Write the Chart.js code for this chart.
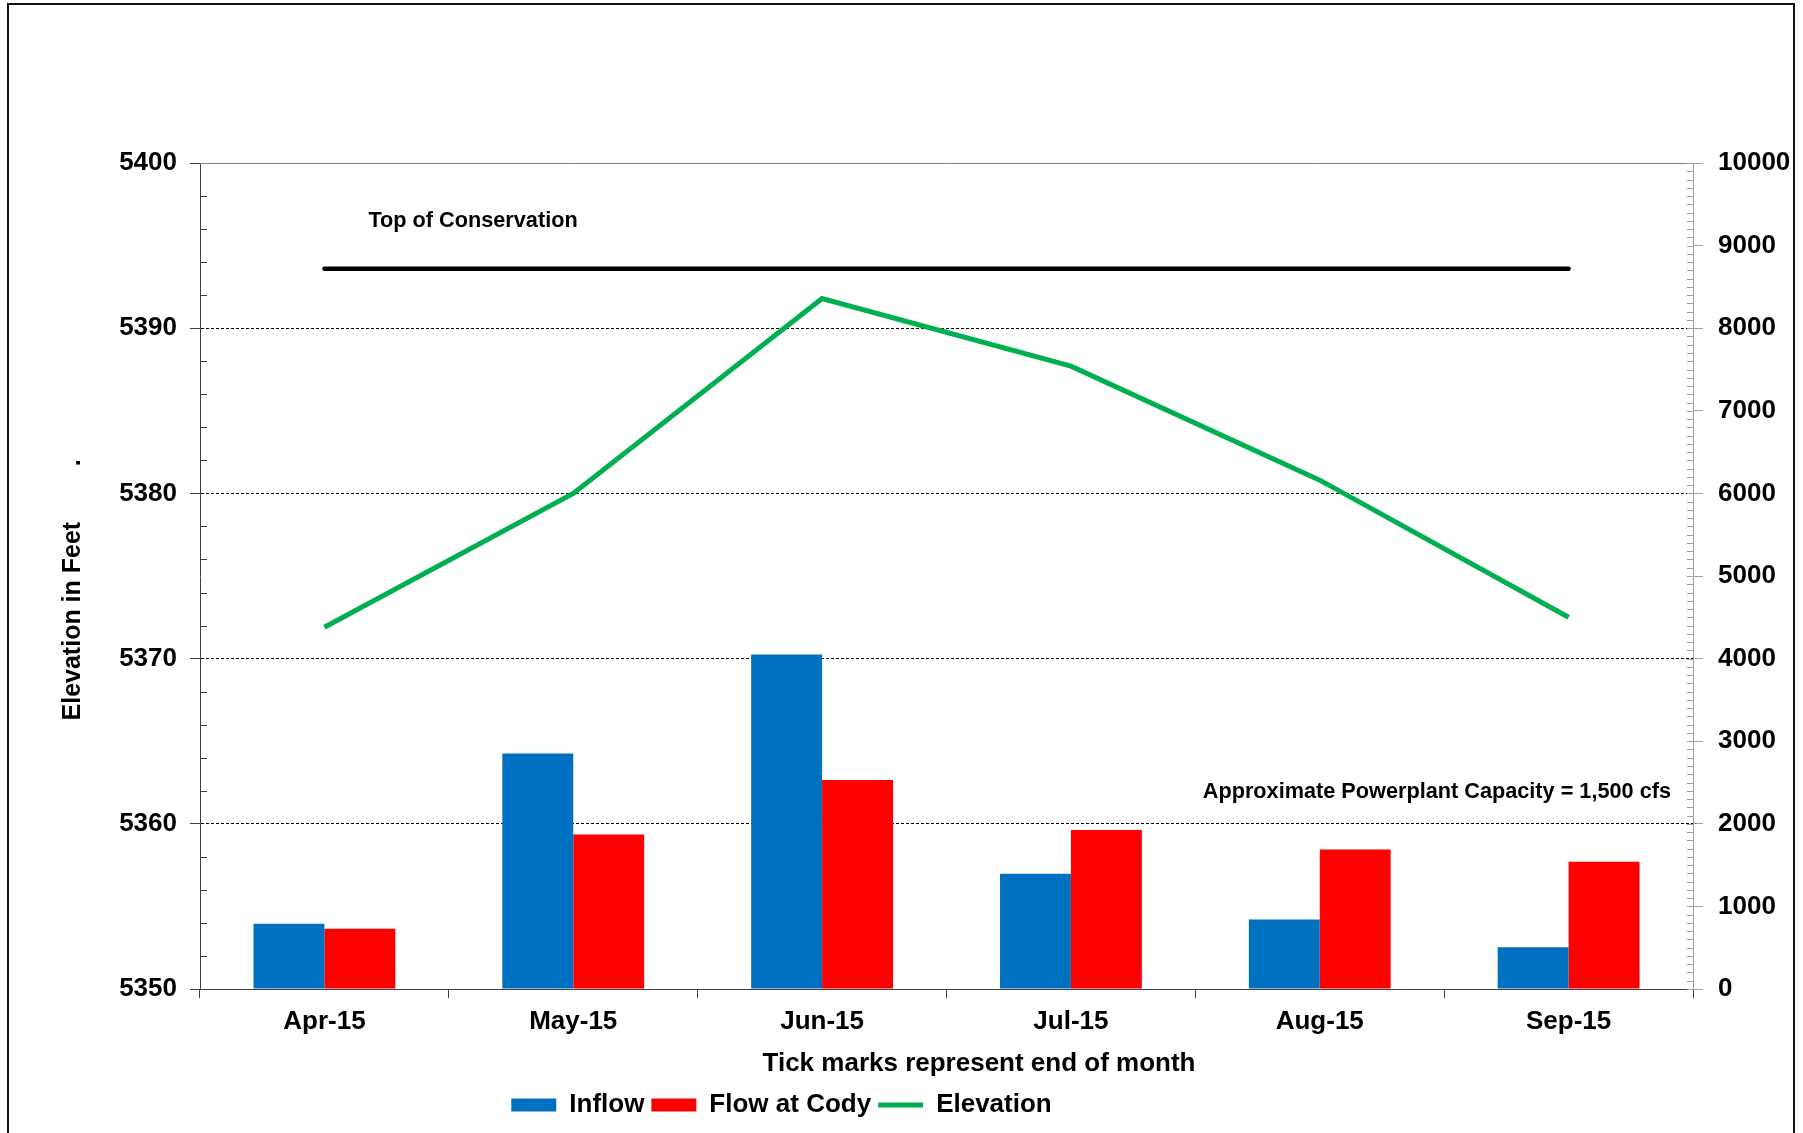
<!DOCTYPE html>
<html>
<head>
<meta charset="utf-8">
<title>Elevation and flows</title>
<script src="https://cdn.jsdelivr.net/npm/chart.js@4.4.1/dist/chart.umd.min.js"></script>
<style>
  html, body { margin:0; padding:0; background:#fff; }
  #frame { position:absolute; left:7px; top:3px; width:1788px; height:1200px; border:2px solid #111; box-sizing:border-box; }
  #chart { position:absolute; left:0; top:0; }
</style>
</head>
<body>
<div id="frame"></div>
<canvas id="chart" width="1803" height="1133"></canvas>
<script>
/* ===== Data ===== */
const months            = ['Apr-15','May-15','Jun-15','Jul-15','Aug-15','Sep-15'];
const inflow            = [790, 2850, 4050, 1395, 840, 505];     // cfs (right axis)
const flowAtCody        = [730, 1870, 2530, 1925, 1690, 1540];   // cfs (right axis)
const elevation         = [5371.9, 5380.0, 5391.8, 5387.7, 5380.8, 5372.5]; // ft (left axis)
const topOfConservation = [5393.6, 5393.6, 5393.6, 5393.6, 5393.6, 5393.6];
const elevAxis = { min: 5350, max: 5400, step: 10, minor: 2 };
const flowAxis = { min: 0, max: 10000, step: 1000, minor: 100 };

// text notes placed on the chart (value = position on the given axis)
const notes = [
  { text: 'Top of Conservation', axis: 'y', value: 5396.5, from: 'first', dx: 44, align: 'left' },
  { text: 'Approximate Powerplant Capacity = 1,500 cfs', axis: 'y2', value: 2390, from: 'right', dx: -22, align: 'right' }
];

/* ===== Styling helpers ===== */
const FONT = "'Liberation Sans', Arial, sans-serif";
const bold = (size) => ({ family: FONT, size, weight: 'bold' });
const plain = (v) => String(v);   // no thousands separators on the axes
Chart.defaults.font.family = FONT;
Chart.defaults.color = '#000';

const legendShift = 120;   // the legend sits left of centre in the original

/* ===== Extras: plot frame, minor ticks, notes ===== */
const extras = {
  id: 'extras',
  afterLayout(chart){
    const lg = chart.legend;
    if (lg){ lg.left -= legendShift; lg.right -= legendShift; }
  },
  afterDraw(chart){
    const { ctx, chartArea: a, scales: { x, y, y2 } } = chart;
    const seg = (x1, y1, x2, y2_) => { ctx.beginPath(); ctx.moveTo(x1, y1); ctx.lineTo(x2, y2_); ctx.stroke(); };
    ctx.save();
    ctx.lineWidth = 1;

    // top edge of plot area
    ctx.strokeStyle = '#808080';
    seg(a.left, a.top + 0.5, a.right, a.top + 0.5);

    // left axis minor ticks (inside)
    ctx.strokeStyle = '#404040';
    for (let v = elevAxis.min; v <= elevAxis.max; v += elevAxis.minor){
      if (v % elevAxis.step === 0) continue;
      const py = Math.round(y.getPixelForValue(v)) + 0.5;
      seg(a.left, py, a.left + 7, py);
    }

    // right axis minor ticks (inside) + inner part of major ticks
    ctx.strokeStyle = '#a0a0a0';
    for (let v = flowAxis.min; v <= flowAxis.max; v += flowAxis.minor){
      const py = Math.round(y2.getPixelForValue(v)) + 0.5;
      seg(a.right - 6, py, a.right, py);
    }

    // notes
    ctx.fillStyle = '#000';
    ctx.font = 'bold 21.7px ' + FONT;
    ctx.textBaseline = 'middle';
    notes.forEach(n => {
      const base = n.from === 'first' ? x.getPixelForValue(0) : a.right;
      ctx.textAlign = n.align;
      ctx.fillText(n.text, base + n.dx, chart.scales[n.axis].getPixelForValue(n.value));
    });
    ctx.restore();
  }
};

/* ===== Chart ===== */
new Chart(document.getElementById('chart').getContext('2d'), {
  type: 'bar',
  data: {
    labels: months,
    datasets: [
      { label: 'Inflow', data: inflow, yAxisID: 'y2', backgroundColor: '#0070C0', borderWidth: 0,
        pointStyle: 'rect', order: 3 },
      { label: 'Flow at Cody', data: flowAtCody, yAxisID: 'y2', backgroundColor: '#FF0000', borderWidth: 0,
        pointStyle: 'rect', order: 3 },
      { label: 'Elevation', type: 'line', data: elevation, yAxisID: 'y', borderColor: '#00B050', backgroundColor: '#00B050',
        borderWidth: 5, pointRadius: 0, pointStyle: 'line', pointBorderWidth: 5, tension: 0, order: 1 },
      { label: 'Top of Conservation', type: 'line', data: topOfConservation, yAxisID: 'y', borderColor: '#000',
        borderWidth: 4.5, borderCapStyle: 'round', pointRadius: 0, tension: 0, order: 2 }
    ]
  },
  options: {
    responsive: false,
    animation: false,
    layout: { padding: { top: 163, left: 0, right: 0, bottom: 5 } },
    datasets: { bar: { barPercentage: 1, categoryPercentage: 0.57 } },
    plugins: {
      tooltip: { enabled: false },
      legend: {
        position: 'bottom',
        labels: {
          usePointStyle: true, pointStyleWidth: 45, boxHeight: 13, padding: 7,
          font: bold(26), color: '#000',
          filter: (item) => item.text !== 'Top of Conservation',
          sort: (a, b) => a.datasetIndex - b.datasetIndex
        }
      }
    },
    scales: {
      x: {
        type: 'category', offset: true,
        grid: { offset: true, drawOnChartArea: false, tickLength: 9, tickColor: '#404040' },
        border: { color: '#404040', width: 1 },
        ticks: { padding: 8, font: bold(26), color: '#000', maxRotation: 0, autoSkip: false },
        title: { display: true, text: '         Tick marks represent end of month', font: bold(26), color: '#000',
                 padding: { top: 0, bottom: 6 } },
        afterFit: (s) => { s.height = 96; }
      },
      y: {
        type: 'linear', position: 'left', min: elevAxis.min, max: elevAxis.max,
        ticks: { stepSize: elevAxis.step, padding: 13, font: bold(26), color: '#000', callback: plain },
        grid: {
          color: (c) => (c.tick && (c.tick.value === elevAxis.min || c.tick.value === elevAxis.max)) ? 'rgba(0,0,0,0)' : '#000',
          lineWidth: 1, tickLength: 10, tickColor: '#404040', tickBorderDash: []
        },
        border: { color: '#404040', width: 1, dash: [3, 2] },
        title: { display: true, text: 'Elevation in Feet        .    ', font: bold(25), color: '#000',
                 padding: { top: 58, bottom: 0 } },
        afterFit: (s) => { s.width = 200; }
      },
      y2: {
        type: 'linear', position: 'right', min: flowAxis.min, max: flowAxis.max,
        ticks: { stepSize: flowAxis.step, padding: 15, font: bold(26), color: '#000', callback: plain },
        grid: { drawOnChartArea: false, tickLength: 10, tickColor: '#a0a0a0' },
        border: { color: '#a0a0a0', width: 1 },
        afterFit: (s) => { s.width = 110; }
      }
    }
  },
  plugins: [extras]
});
</script>
</body>
</html>
